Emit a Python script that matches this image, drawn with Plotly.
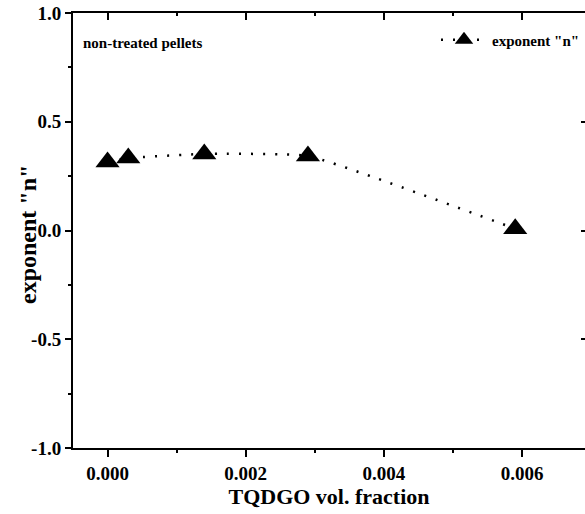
import plotly.graph_objects as go

# Measured exponent "n" versus TQDGO volume fraction (non-treated pellets)
vol_fraction = [0.0, 0.0003, 0.0014, 0.0029, 0.0059]
exponent_n = [0.315, 0.333, 0.352, 0.343, 0.008]

x_range = [-0.0005, 0.00691]
y_range = [-1.0, 1.0]
x_tick_vals = [0.000, 0.002, 0.004, 0.006]
x_tick_text = ["0.000", "0.002", "0.004", "0.006"]
y_tick_vals = [-1.0, -0.5, 0.0, 0.5, 1.0]
y_tick_text = ["-1.0", "-0.5", "0.0", "0.5", "1.0"]

SERIF = "Liberation Serif, Times New Roman, serif"
W, H = 585, 514
M = dict(l=73, r=0, t=13, b=66)
plot_w = W - M["l"] - M["r"]
plot_h = H - M["t"] - M["b"]


def px_to_paper_x(px):
    return (px - M["l"]) / plot_w


def px_to_paper_y(py):
    return (H - M["b"] - py) / plot_h


fig = go.Figure()
fig.add_trace(go.Scatter(
    x=vol_fraction, y=exponent_n,
    mode="lines+markers",
    name='exponent "n"',
    line=dict(color="black", width=2.5, dash="2px,10px", shape="spline", smoothing=0.35),
    marker=dict(symbol="triangle-up", size=21, color="black"),
))
# empty helper trace so the top/right mirror axes get their own subplot
fig.add_trace(go.Scatter(x=[], y=[], xaxis="x2", yaxis="y2", showlegend=False,
                         hoverinfo="skip"))

axis_common = dict(showgrid=False, zeroline=False, linecolor="black",
                   tickcolor="black", tickwidth=2, automargin=False)

fig.update_layout(
    width=W, height=H, margin=dict(M, autoexpand=False),
    paper_bgcolor="white", plot_bgcolor="white",
    font=dict(family=SERIF, color="black", weight="bold"),
    showlegend=True,
    legend=dict(x=1, y=px_to_paper_y(40), xanchor="right", yanchor="middle",
                itemwidth=46, bgcolor="rgba(0,0,0,0)",
                font=dict(size=15, family=SERIF, weight="bold")),
    xaxis=dict(
        range=x_range, tickmode="array", tickvals=x_tick_vals, ticktext=x_tick_text,
        showline=True, linewidth=2, ticks="outside", ticklen=7,
        minor=dict(ticks="outside", ticklen=3, tick0=0, dtick=0.001, tickcolor="black", tickwidth=2),
        tickfont=dict(size=19, family=SERIF, weight="bold"),
        title=dict(text="TQDGO vol. fraction", font=dict(size=22, family=SERIF, weight="bold"),
                   standoff=4),
        **axis_common,
    ),
    yaxis=dict(
        range=y_range, tickmode="array", tickvals=y_tick_vals, ticktext=y_tick_text,
        showline=True, linewidth=2, ticks="outside", ticklen=6,
        minor=dict(ticks="outside", ticklen=3, tick0=0, dtick=0.25, tickcolor="black", tickwidth=2),
        tickfont=dict(size=19, family=SERIF, weight="bold"),
        **axis_common,
    ),
    xaxis2=dict(
        overlaying="x", side="top", range=x_range, tickmode="array", tickvals=x_tick_vals,
        showticklabels=False, showline=True, linewidth=2, ticks="inside", ticklen=7,
        minor=dict(ticks="inside", ticklen=3, tick0=0, dtick=0.001, tickcolor="black", tickwidth=2),
        **axis_common,
    ),
    yaxis2=dict(
        overlaying="y", side="right", range=y_range, tickmode="array", tickvals=y_tick_vals,
        showticklabels=False, showline=False, ticks="inside", ticklen=4,
        **axis_common,
    ),
)

# y-axis title placed as rotated text beside the tick labels
fig.add_annotation(
    text='exponent "n"', xref="paper", yref="paper",
    x=px_to_paper_x(28), y=px_to_paper_y(235), xanchor="center", yanchor="middle",
    textangle=-90, showarrow=False,
    font=dict(size=24, family=SERIF, weight="bold", color="black"),
)

fig.add_annotation(
    text="non-treated pellets", xref="paper", yref="paper",
    x=px_to_paper_x(81), y=px_to_paper_y(43), xanchor="left", yanchor="middle",
    showarrow=False, font=dict(size=15, family=SERIF, weight="bold", color="black"),
)

fig.write_html("out.html")
